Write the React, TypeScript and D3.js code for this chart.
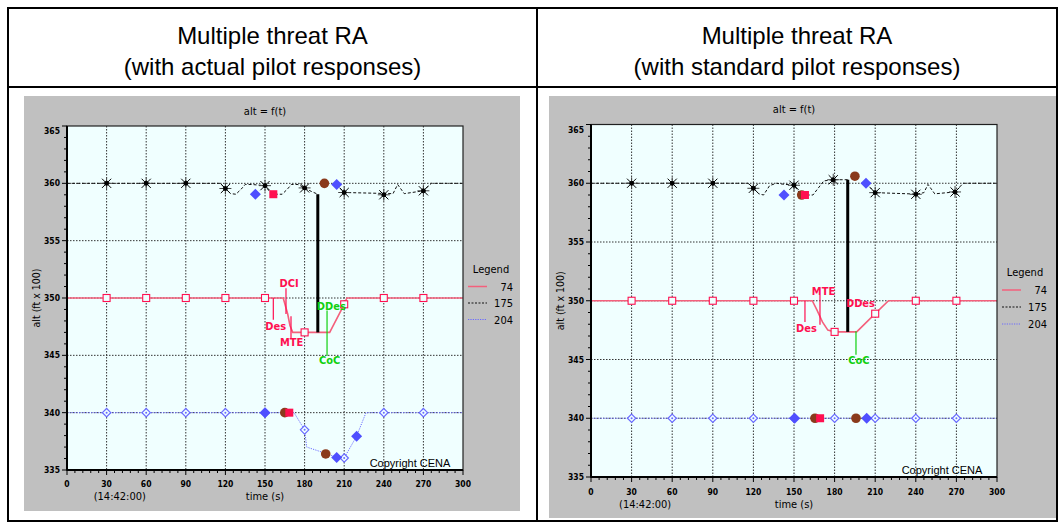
import React from "react";
import * as d3 from "d3";

type Pt = [number, number | null];
type Ev = { shape: "diamond" | "square" | "circle"; t: number; alt: number };
type Note = { text: string; t: number; alt: number; color: string };
type Leader = { t: number; from: number; to: number; color: string };

// ---- header and axis text ----
const headerTitle = "Multiple threat RA";
const headerSubtitles = ["(with actual pilot responses)", "(with standard pilot responses)"];
const plotTitle = "alt = f(t)";
const yAxisLabel = "alt (ft x 100)";
const xAxisLabel = "time (s)";
const startClock = "(14:42:00)";
const copyright = "Copyright CENA";
const timeTicks = [0, 30, 60, 90, 120, 150, 180, 210, 240, 270, 300];
const altTicks = [335, 340, 345, 350, 355, 360, 365];
const gridTimes = [30, 60, 90, 120, 150, 180, 210, 240, 270];
const gridAlts = [340, 345, 350, 355, 360];
const legendKeys = ["74", "175", "204"];

// ---- actual pilot responses ----
const actualTrack74: Pt[] = [
  [0, 350], [30, 350], [60, 350], [90, 350], [120, 350], [150, 350], [163.8, 350],
  [167.2, 348.6], [168.9, 347.6], [171, 347.0], [180, 347], [199, 347],
  [210, 349.45], [212, 350], [240, 350], [270, 350], [300, 350],
];
const actualTrack175: Pt[] = [
  [0, 360], [30, 360], [60, 360], [90, 360], [116, 360], [120, 359.55], [124, 359.1],
  [128, 359.05], [132, 359.5], [135, 359.9], [140, 359.9], [150, 359.8], [154, 359.2],
  [157, 359.05], [163, 359.05], [167, 359.5], [170, 359.9], [175, 359.9], [180, 359.6],
  [185, 359.3], [190, 359.05], [190, null], [204.3, 359.9], [210, 359.2], [247, 359.1],
  [250.5, 359.9], [255.5, 359.1], [270, 359.35], [276, 360], [300, 360],
];
const actualTrack204: Pt[] = [
  [0, 340], [30, 340], [60, 340], [90, 340], [120, 340], [150, 340], [172, 340],
  [180, 338.5], [181.6, 337], [196, 336.45], [204.3, 336.1], [210, 336.05],
  [219.4, 337.95], [226.5, 340], [240, 340], [270, 340], [300, 340],
];
const actualMarks74: [number, number][] = [
  [30, 350], [60, 350], [90, 350], [120, 350], [150, 350], [180, 347], [210, 349.45], [240, 350], [270, 350],
];
const actualMarks175: [number, number][] = [
  [30, 360], [60, 360], [90, 360], [120, 359.55], [150, 359.8], [180, 359.6], [210, 359.2], [240, 359.0], [270, 359.35],
];
const actualMarks204: [number, number][] = [
  [30, 340], [60, 340], [90, 340], [120, 340], [150, 340], [180, 338.5], [210, 336.05], [240, 340], [270, 340],
];
const actualEvents: Ev[] = [
  { shape: "circle", t: 195, alt: 360 },
  { shape: "circle", t: 165, alt: 340 },
  { shape: "circle", t: 196, alt: 336.4 },
  { shape: "square", t: 156.3, alt: 359.05 },
  { shape: "square", t: 168.4, alt: 340 },
  { shape: "diamond", t: 142.7, alt: 359.05 },
  { shape: "diamond", t: 204.3, alt: 359.9 },
  { shape: "diamond", t: 150, alt: 340 },
  { shape: "diamond", t: 204.3, alt: 336.1 },
  { shape: "diamond", t: 219.4, alt: 337.95 },
];
const actualSeparation = { t: 190, from: 359.05, to: 347 };
const actualNotes: Note[] = [
  { text: "DCI", t: 168.2, alt: 351.3, color: "#ff1050" },
  { text: "Des", t: 158.1, alt: 347.5, color: "#ff1050" },
  { text: "MTE", t: 170.2, alt: 346.1, color: "#ff1050" },
  { text: "DDes", t: 200.2, alt: 349.25, color: "#10d010" },
  { text: "CoC", t: 198.9, alt: 344.55, color: "#10d010" },
];
const actualLeaders: Leader[] = [
  { t: 165.9, from: 350.85, to: 348.6, color: "#ff1050" },
  { t: 156.3, from: 350, to: 348.1, color: "#ff1050" },
  { t: 169.7, from: 348.4, to: 346.5, color: "#ff1050" },
  { t: 197, from: 348.9, to: 344.95, color: "#10d010" },
];

// ---- standard pilot responses ----
const standardTrack74: Pt[] = [
  [0, 350], [30, 350], [60, 350], [90, 350], [120, 350], [150, 350], [163.5, 350],
  [167, 349.2], [171, 348.2], [175, 347.5], [180, 347.35], [196.3, 347.35],
  [210, 348.9], [219.8, 350], [240, 350], [270, 350], [300, 350],
];
const standardTrack175: Pt[] = [
  [0, 360], [30, 360], [60, 360], [90, 360], [116, 360], [120, 359.57], [124, 359.1],
  [127.5, 359.0], [132, 359.8], [137, 360], [140, 359.95], [150, 359.83], [154, 359.2],
  [158, 359.0], [164, 359.0], [168, 359.6], [172, 360.2], [179, 360.3], [189.7, 360.3],
  [189.7, null], [203.2, 360], [210, 359.2], [235, 359.1], [240, 359.06], [246, 359.2],
  [249, 359.9], [254, 359.1], [269, 359.26], [275, 360], [300, 360],
];
const standardTrack204: Pt[] = [[0, 340], [300, 340]];
const standardMarks74: [number, number][] = [
  [30, 350], [60, 350], [90, 350], [120, 350], [150, 350], [180, 347.35], [210, 348.9], [240, 350], [270, 350],
];
const standardMarks175: [number, number][] = [
  [30, 360], [60, 360], [90, 360], [120, 359.57], [150, 359.83], [179, 360.3], [210, 359.2], [240, 359.06], [269, 359.26],
];
const standardMarks204: [number, number][] = [
  [30, 340], [60, 340], [90, 340], [120, 340], [150, 340], [180, 340], [210, 340], [240, 340], [270, 340],
];
const standardEvents: Ev[] = [
  { shape: "circle", t: 155.7, alt: 359 },
  { shape: "circle", t: 195, alt: 360.6 },
  { shape: "circle", t: 165.5, alt: 340 },
  { shape: "circle", t: 195.8, alt: 340 },
  { shape: "square", t: 158.1, alt: 359 },
  { shape: "square", t: 169.3, alt: 340 },
  { shape: "diamond", t: 142.6, alt: 359 },
  { shape: "diamond", t: 203.2, alt: 360 },
  { shape: "diamond", t: 150.5, alt: 340 },
  { shape: "diamond", t: 203.7, alt: 340 },
];
const standardSeparation = { t: 189.7, from: 360.3, to: 347.35 };
const standardNotes: Note[] = [
  { text: "MTE", t: 171.8, alt: 350.8, color: "#ff1050" },
  { text: "Des", t: 159.2, alt: 347.6, color: "#ff1050" },
  { text: "DDes", t: 199.1, alt: 349.75, color: "#ff1050" },
  { text: "CoC", t: 198.0, alt: 344.95, color: "#10d010" },
];
const standardLeaders: Leader[] = [
  { t: 169.2, from: 350.5, to: 347.95, color: "#ff1050" },
  { t: 158.1, from: 350, to: 348.2, color: "#ff1050" },
  { t: 195.8, from: 347.4, to: 345.4, color: "#10d010" },
];

// ---- look ----
const NARROW = "'Liberation Sans Narrow','Arial Narrow','DejaVu Sans Condensed','Liberation Sans',sans-serif";
const SANS = "'Liberation Sans',Arial,Helvetica,sans-serif";
const RED_LINE = "#f4607c";
const RED = "#ff1050";
const BLUE_LINE = "#6a6aff";
const BLUE = "#4f4fff";
const BROWN = "#8a3a1c";

type Layout = {
  cx: number; gx0: number; gx1: number; gy0: number; gy1: number;
  px0: number; px1: number; py0: number; py1: number;
  titleY: number; tickY: number; axisLabelY: number; yLabelX: number;
  legX: number; legY: number; legGap: number; copyX: number; copyY: number;
};

const layouts: Layout[] = [
  {
    cx: 272.5, gx0: 24, gx1: 520, gy0: 96, gy1: 511,
    px0: 67, px1: 463, py0: 126, py1: 470,
    titleY: 115, tickY: 487, axisLabelY: 500, yLabelX: 40,
    legX: 468, legY: 273, legGap: 16.5, copyX: 410, copyY: 467,
  },
  {
    cx: 797, gx0: 549, gx1: 1056, gy0: 96, gy1: 518,
    px0: 591, px1: 997, py0: 124.5, py1: 477,
    titleY: 113, tickY: 495, axisLabelY: 508, yLabelX: 564,
    legX: 1002, legY: 276, legGap: 17, copyX: 942, copyY: 474,
  },
];

type PanelData = {
  subtitle: string;
  t74: Pt[]; t175: Pt[]; t204: Pt[];
  m74: [number, number][]; m175: [number, number][]; m204: [number, number][];
  events: Ev[]; sep: { t: number; from: number; to: number };
  notes: Note[]; leaders: Leader[];
};

const panels: PanelData[] = [
  {
    subtitle: headerSubtitles[0], t74: actualTrack74, t175: actualTrack175, t204: actualTrack204,
    m74: actualMarks74, m175: actualMarks175, m204: actualMarks204,
    events: actualEvents, sep: actualSeparation, notes: actualNotes, leaders: actualLeaders,
  },
  {
    subtitle: headerSubtitles[1], t74: standardTrack74, t175: standardTrack175, t204: standardTrack204,
    m74: standardMarks74, m175: standardMarks175, m204: standardMarks204,
    events: standardEvents, sep: standardSeparation, notes: standardNotes, leaders: standardLeaders,
  },
];

function Asterisk({ x, y }: { x: number; y: number }) {
  const r = 6;
  const k = 4.6;
  return (
    <g stroke="#000" strokeWidth={1}>
      <line x1={x - r} y1={y} x2={x + r} y2={y} stroke="#444" />
      <line x1={x} y1={y - r} x2={x} y2={y + r} stroke="#444" />
      <line x1={x - k} y1={y - k} x2={x + k} y2={y + k} />
      <line x1={x - k} y1={y + k} x2={x + k} y2={y - k} />
      <circle cx={x} cy={y} r={2} fill="#000" />
    </g>
  );
}

function Panel({ L, D }: { L: Layout; D: PanelData }) {
  const x = d3.scaleLinear().domain([0, 300]).range([L.px0, L.px1]);
  const y = d3.scaleLinear().domain([335, 365]).range([L.py1, L.py0]);
  const line = d3
    .line<Pt>()
    .defined((d) => d[1] !== null)
    .x((d) => x(d[0]))
    .y((d) => y(d[1] as number));
  const minorT = d3.range(0, 301, 6);
  const minorA = d3.range(335, 366, 1);
  const diamond = (cx: number, cy: number, r: number) =>
    `M${cx},${cy - r}L${cx + r},${cy}L${cx},${cy + r}L${cx - r},${cy}Z`;

  return (
    <g>
      <rect x={L.gx0} y={L.gy0} width={L.gx1 - L.gx0} height={L.gy1 - L.gy0} fill="#c0c0c0" />
      <rect x={L.px0} y={L.py0} width={L.px1 - L.px0} height={L.py1 - L.py0} fill="#f0ffff" />

      {/* grid */}
      <g stroke="#333" strokeWidth={1} strokeDasharray="1.5,1.5">
        {gridTimes.map((t) => (
          <line key={"gt" + t} x1={x(t)} x2={x(t)} y1={L.py0} y2={L.py1} />
        ))}
        {gridAlts.map((a) => (
          <line key={"ga" + a} x1={L.px0} x2={L.px1} y1={y(a)} y2={y(a)} />
        ))}
      </g>

      {/* tracks */}
      <path d={line(D.t204) || ""} fill="none" stroke={BLUE_LINE} strokeWidth={1} strokeDasharray="1.2,1.2" />
      <path d={line(D.t175) || ""} fill="none" stroke="#111" strokeWidth={1} strokeDasharray="3,2" />
      <path d={line(D.t74) || ""} fill="none" stroke={RED_LINE} strokeWidth={1.6} />

      {/* vertical separation at closest approach */}
      <line x1={x(D.sep.t)} x2={x(D.sep.t)} y1={y(D.sep.from)} y2={y(D.sep.to)} stroke="#000" strokeWidth={3} />

      {/* annotation leaders */}
      {D.leaders.map((l, i) => (
        <line key={"ld" + i} x1={x(l.t)} x2={x(l.t)} y1={y(l.from)} y2={y(l.to)} stroke={l.color} strokeWidth={1.2} />
      ))}

      {/* periodic markers */}
      {D.m204.map(([t, a], i) => (
        <g key={"m204" + i}>
          <path d={diamond(x(t), y(a), 4.2)} fill="#f0ffff" stroke={BLUE_LINE} strokeWidth={1.2} />
          <circle cx={x(t)} cy={y(a)} r={1} fill={BLUE_LINE} />
        </g>
      ))}
      {D.m74.map(([t, a], i) => (
        <rect key={"m74" + i} x={x(t) - 3.5} y={y(a) - 3.5} width={7} height={7} fill="#f0ffff" stroke={RED} strokeWidth={1.1} />
      ))}
      {D.m175.map(([t, a], i) => (
        <Asterisk key={"m175" + i} x={x(t)} y={y(a)} />
      ))}

      {/* event markers */}
      {D.events.map((e, i) => {
        const cx = x(e.t);
        const cy = y(e.alt);
        if (e.shape === "circle") return <circle key={"ev" + i} cx={cx} cy={cy} r={4.8} fill={BROWN} />;
        if (e.shape === "square") return <rect key={"ev" + i} x={cx - 4} y={cy - 4} width={8} height={8} fill={RED} />;
        return <path key={"ev" + i} d={diamond(cx, cy, 5.5)} fill={BLUE} />;
      })}

      {/* event labels */}
      {D.notes.map((n, i) => (
        <text key={"nt" + i} x={x(n.t)} y={y(n.alt)} fill={n.color} fontFamily={NARROW} fontWeight="bold" fontSize={11} textAnchor="middle" dominantBaseline="central">
          {n.text}
        </text>
      ))}

      {/* frame */}
      <rect x={L.px0} y={L.py0} width={L.px1 - L.px0} height={L.py1 - L.py0} fill="none" stroke="#202020" strokeWidth={1.2} />
      <line x1={L.px0} x2={L.px0} y1={L.py0} y2={L.py1 + 0.5} stroke="#000" strokeWidth={2} />
      <line x1={L.px0} x2={L.px1} y1={L.py1} y2={L.py1} stroke="#000" strokeWidth={2} />

      {/* ticks */}
      <g stroke="#000" strokeWidth={1}>
        {minorT.map((t) => (
          <line key={"tt" + t} x1={x(t)} x2={x(t)} y1={L.py1} y2={L.py1 + (t % 30 === 0 ? 5 : 3)} />
        ))}
        {minorA.map((a) => (
          <line key={"ta" + a} x1={L.px0} x2={L.px0 - (a % 5 === 0 ? 5 : 3)} y1={y(a)} y2={y(a)} />
        ))}
      </g>
      <g fontFamily={NARROW} fontWeight="bold" fontSize={8.5} fill="#000">
        {timeTicks.map((t) => (
          <text key={"lt" + t} x={x(t)} y={L.tickY} textAnchor="middle">{t}</text>
        ))}
        {altTicks.map((a) => (
          <text key={"la" + a} x={L.px0 - 7} y={Math.max(y(a), L.py0 + 5) + 3} textAnchor="end">{a}</text>
        ))}
      </g>

      <text x={x(150)} y={L.titleY} textAnchor="middle" fontFamily={NARROW} fontSize={11}>{plotTitle}</text>
      <text x={x(150)} y={L.axisLabelY} textAnchor="middle" fontFamily={NARROW} fontSize={11}>{xAxisLabel}</text>
      <text x={x(40)} y={L.axisLabelY} textAnchor="middle" fontFamily={NARROW} fontSize={11}>{startClock}</text>
      <text transform={`translate(${L.yLabelX},${y(350)}) rotate(-90)`} textAnchor="middle" fontFamily={NARROW} fontSize={10.5}>{yAxisLabel}</text>

      {/* legend */}
      <text x={L.legX + 23} y={L.legY} textAnchor="middle" fontFamily={NARROW} fontSize={11}>Legend</text>
      {legendKeys.map((k, i) => {
        const ly = L.legY + L.legGap * (i + 1) - 3;
        const stroke = i === 0 ? RED_LINE : i === 1 ? "#111" : BLUE_LINE;
        const dash = i === 0 ? undefined : i === 1 ? "2,1.5" : "1.2,1.2";
        return (
          <g key={"lg" + k}>
            <line x1={L.legX} x2={L.legX + 19} y1={ly} y2={ly} stroke={stroke} strokeWidth={i === 0 ? 1.5 : 1} strokeDasharray={dash} />
            <text x={L.legX + 45} y={ly + 4} textAnchor="end" fontFamily={NARROW} fontSize={11}>{k}</text>
          </g>
        );
      })}

      <text x={L.copyX} y={L.copyY} textAnchor="middle" fontFamily={SANS} fontSize={11}>{copyright}</text>

      {/* header */}
      <text x={L.cx} y={44} textAnchor="middle" fontFamily={SANS} fontSize={24}>{headerTitle}</text>
      <text x={L.cx} y={75} textAnchor="middle" fontFamily={SANS} fontSize={24}>{D.subtitle}</text>
    </g>
  );
}

export default function App() {
  return (
    <svg width={1060} height={524} style={{ position: "absolute", left: 0, top: 0, background: "#fff" }}>
      <rect x={0} y={0} width={1060} height={524} fill="#fff" />
      {panels.map((p, i) => (
        <Panel key={i} L={layouts[i]} D={p} />
      ))}
      <g stroke="#000" strokeWidth={2} fill="none">
        <rect x={8} y={8} width={1049} height={513} />
        <line x1={8} x2={1057} y1={87} y2={87} />
        <line x1={537} x2={537} y1={8} y2={521} />
      </g>
    </svg>
  );
}
